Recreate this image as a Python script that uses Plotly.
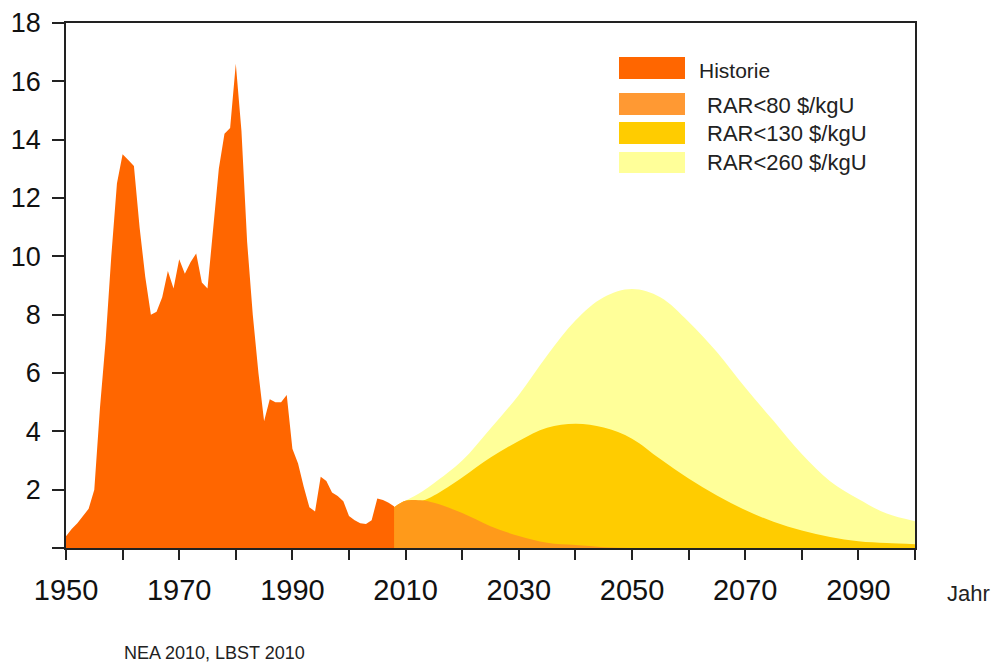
import plotly.graph_objects as go

# ---------------- data ----------------
hist_years = list(range(1950, 2009))
hist_values = [0.4, 0.65, 0.85, 1.1, 1.35, 2.0, 4.8, 7.1, 10.0, 12.5,
               13.5, 13.3, 13.1, 11.0, 9.3, 8.0, 8.1, 8.6, 9.5, 8.9,
               9.9, 9.4, 9.8, 10.1, 9.1, 8.9, 11.0, 13.0, 14.2, 14.4,
               16.6, 14.3, 10.5, 8.0, 6.0, 4.35, 5.1, 5.0, 5.0, 5.25,
               3.4, 2.9, 2.1, 1.4, 1.25, 2.44, 2.3, 1.9, 1.78, 1.6,
               1.1, 0.95, 0.85, 0.82, 0.95, 1.7, 1.65, 1.55, 1.42]

fc_years = [2008, 2010, 2013, 2015, 2020, 2025, 2030, 2035, 2040, 2045,
            2050, 2055, 2060, 2065, 2070, 2075, 2080, 2085, 2090, 2095, 2100]
rar260 = [1.4, 1.62, 1.95, 2.22, 3.0, 4.1, 5.25, 6.6, 7.8, 8.6,
          8.88, 8.6, 7.76, 6.72, 5.5, 4.36, 3.22, 2.29, 1.68, 1.18, 0.92]
rar130 = [1.4, 1.62, 1.63, 1.8, 2.42, 3.1, 3.67, 4.12, 4.26, 4.13,
          3.75, 3.05, 2.38, 1.8, 1.3, 0.9, 0.6, 0.38, 0.23, 0.17, 0.13]
rar80 = [1.4, 1.62, 1.63, 1.55, 1.2, 0.75, 0.41, 0.18, 0.1, 0.03,
         0.0, 0.0, 0.0, 0.0, 0.0, 0.0, 0.0, 0.0, 0.0, 0.0, 0.0]

series_names = ["Historie", "RAR<80 $/kgU", "RAR<130 $/kgU", "RAR<260 $/kgU"]
series_colors = ["#FF6600", "#FF9A1A", "#FFCC00", "#FFFF99"]
legend_colors = ["#FF6600", "#FF9933", "#FFCC00", "#FFFF99"]

x_tickvals = list(range(1950, 2101, 10))
x_ticktext = [str(v) if (v - 1950) % 20 == 0 and v < 2100 else "" for v in x_tickvals]
y_tickvals = list(range(0, 19, 2))
y_ticktext = [str(v) if v > 0 else "" for v in y_tickvals]

# ---------------- layout geometry (screen pixels; page body adds 8px offset) ----------------
W, H = 1000, 666
OFF = 8
L, R, T, B = 66 - OFF, 915 - OFF, 23 - OFF, 548 - OFF


def px(x):
    return (x - OFF - L) / (R - L)


def py(y):
    return (B - (y - OFF)) / (B - T)


fig = go.Figure()

for vals, name, col in [(rar260, series_names[3], series_colors[3]),
                        (rar130, series_names[2], series_colors[2]),
                        (rar80, series_names[1], series_colors[1])]:
    fig.add_trace(go.Scatter(x=fc_years, y=vals, name=name, mode="lines",
                             line=dict(width=0, shape="spline", smoothing=1.0, color=col),
                             fill="tozeroy", fillcolor=col, showlegend=False,
                             hoverinfo="x+y+name"))

fig.add_trace(go.Scatter(x=hist_years, y=hist_values, name=series_names[0], mode="lines",
                         line=dict(width=0, color=series_colors[0]),
                         fill="tozeroy", fillcolor=series_colors[0], showlegend=False))

font_main = "Liberation Sans, Arial, sans-serif"

# legend built from shapes + annotations (screen pixel positions)
legend_rows = [(57, 79, 70, 697, 21), (93, 115, 106, 705, 22),
               (122, 144, 134, 705, 22), (152, 173, 162, 705, 22)]
shapes = []
annotations = []
for (y0, y1, yc, tx, fs), name, col in zip(legend_rows, series_names, legend_colors):
    shapes.append(dict(type="rect", xref="paper", yref="paper",
                       x0=px(619), x1=px(685), y0=py(y1), y1=py(y0),
                       fillcolor=col, line=dict(width=0), layer="above"))
    annotations.append(dict(text=name, xref="paper", yref="paper", x=px(tx), y=py(yc),
                            xanchor="left", yanchor="middle", showarrow=False,
                            font=dict(family=font_main, size=fs, color="#222222")))

annotations.append(dict(text="Jahr", xref="paper", yref="paper", x=px(945), y=py(593),
                        xanchor="left", yanchor="middle", showarrow=False,
                        font=dict(family=font_main, size=22, color="#222222")))
annotations.append(dict(text="NEA 2010, LBST 2010", xref="paper", yref="paper",
                        x=px(122), y=py(653), xanchor="left", yanchor="middle",
                        showarrow=False,
                        font=dict(family=font_main, size=18, color="#222222")))

fig.update_layout(
    width=W, height=H,
    margin=dict(l=L, r=W - R, t=T, b=H - B, autoexpand=False),
    paper_bgcolor="white", plot_bgcolor="white",
    showlegend=False,
    shapes=shapes, annotations=annotations,
    xaxis=dict(range=[1950, 2100], tickvals=x_tickvals, ticktext=x_ticktext,
               ticks="outside", ticklen=10, tickwidth=1.5, tickcolor="#222222",
               showline=True, linecolor="#222222", linewidth=1.5, mirror=True,
               showgrid=False, zeroline=False, ticklabelstandoff=5,
               tickfont=dict(family=font_main, size=29, color="#111111"),
               automargin=False),
    yaxis=dict(range=[0, 18], tickvals=y_tickvals, ticktext=y_ticktext,
               ticks="outside", ticklen=12, tickwidth=1.5, tickcolor="#222222",
               showline=True, linecolor="#222222", linewidth=1.5, mirror=True,
               showgrid=False, zeroline=False, ticklabelstandoff=6,
               tickfont=dict(family=font_main, size=27, color="#111111"),
               automargin=False),
)

fig.write_html("out.html")
